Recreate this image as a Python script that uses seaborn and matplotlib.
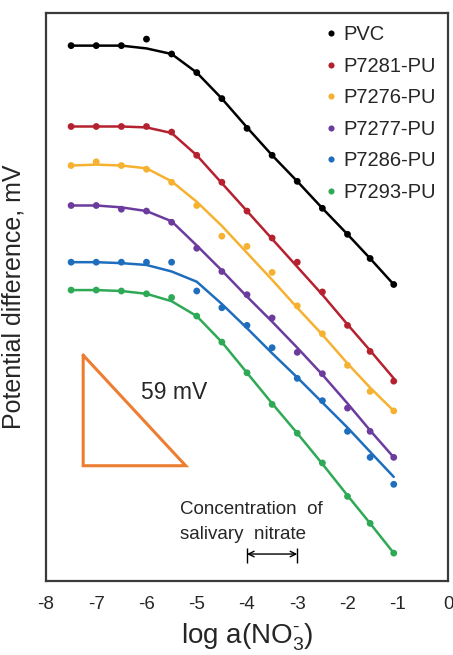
import matplotlib
matplotlib.use("Agg")
import matplotlib.pyplot as plt
import pandas as pd
import seaborn as sns

# x positions: log activity of nitrate
log_a = [-7.5, -7.0, -6.5, -6.0, -5.5, -5.0, -4.5, -4.0, -3.5, -3.0, -2.5, -2.0, -1.55, -1.08]

membranes = ["PVC", "P7281-PU", "P7276-PU", "P7277-PU", "P7286-PU", "P7293-PU"]
colors = ["#000000", "#b5212e", "#f5b12f", "#6b3c9e", "#1f6dbd", "#2ea955"]

# measured potentials (mV, curves offset for clarity)
pvc_pts = [576, 576, 576, 583, 567, 547, 519, 487, 458, 430, 401, 373, 347, 319]
p7281_pts = [489, 489, 489, 489, 483, 458, 429, 398, 369, 343, 311, 275, 247, 215]
p7276_pts = [447, 451, 447, 443, 429, 404, 371, 360, 332, 296, 266, 232, 204, 183]
p7277_pts = [404, 404, 400, 398, 386, 358, 333, 308, 283, 246, 223, 186, 161, 133]
p7286_pts = [343, 343, 343, 343, 343, 312, 294, 275, 251, 218, 194, 161, 133, 104]
p7293_pts = [313, 313, 312, 309, 305, 285, 257, 224, 190, 159, 127, 91, 62, 30]

# fitted response curves
pvc_fit = [576, 576, 576, 573, 567, 547, 519, 488, 458, 430, 401, 373, 347, 319]
p7281_fit = [489, 489, 489, 488, 482, 458, 428, 398, 368, 338, 308, 276, 248, 218]
p7276_fit = [447, 448, 447, 444, 430, 408, 382, 353, 324, 294, 265, 234, 208, 183]
p7277_fit = [404, 404, 402, 398, 387, 361, 334, 306, 279, 251, 222, 191, 162, 133]
p7286_fit = [343, 343, 342, 340, 333, 322, 298, 272, 245, 219, 192, 165, 139, 112]
p7293_fit = [313, 313, 312, 309, 301, 285, 257, 224, 191, 159, 126, 92, 62, 30]

measured = [pvc_pts, p7281_pts, p7276_pts, p7277_pts, p7286_pts, p7293_pts]
fitted = [pvc_fit, p7281_fit, p7276_fit, p7277_fit, p7286_fit, p7293_fit]

# 59 mV slope triangle and salivary nitrate range
tri_x = [-7.26, -7.26, -5.22, -7.26]
tri_y = [243, 124, 124, 243]
saliva_range = [-4.0, -3.0]

rows = []
for name, pts, fit in zip(membranes, measured, fitted):
    for x, p, f in zip(log_a, pts, fit):
        rows.append({"log_a": x, "E": p, "fit": f, "membrane": name})
df = pd.DataFrame(rows)

sns.set_style("white")
plt.rcParams["font.family"] = ["Liberation Sans", "DejaVu Sans"]
plt.rcParams["mathtext.fontset"] = "custom"
plt.rcParams["mathtext.rm"] = "Liberation Sans"
plt.rcParams["mathtext.it"] = "Liberation Sans:italic"
plt.rcParams["axes.unicode_minus"] = False

palette = dict(zip(membranes, colors))

fig, ax = plt.subplots(figsize=(4.53, 6.55), dpi=100)
fig.subplots_adjust(left=0.1015, right=0.989, bottom=0.113, top=0.980)

sns.lineplot(data=df, x="log_a", y="fit", hue="membrane", palette=palette,
             linewidth=1.8, legend=False, sort=False, ax=ax)
sns.scatterplot(data=df, x="log_a", y="E", hue="membrane", palette=palette,
                s=24, edgecolor="none", ax=ax, zorder=3)

handles, labels = ax.get_legend_handles_labels()
ax.legend(handles, labels, loc="upper right", frameon=False, fontsize=14.5,
          handlelength=0.6, handletextpad=0.3, labelspacing=0.62,
          borderaxespad=0.2, markerscale=0.9)

ax.plot(tri_x, tri_y, color="#ed7d31", linewidth=2.2, solid_joinstyle="miter")
ax.text(-5.46, 203, "59 mV", fontsize=16.5, ha="center", va="center")

ax.text(-5.34, 77, "Concentration  of", fontsize=13.5, ha="left", va="center")
ax.text(-5.34, 50, "salivary  nitrate", fontsize=13.5, ha="left", va="center")
ax.annotate("", xy=(saliva_range[1], 29), xytext=(saliva_range[0], 29),
            arrowprops=dict(arrowstyle="<->", color="black", lw=1,
                            shrinkA=0, shrinkB=0))
ax.vlines(saliva_range, 19, 36, color="black", lw=1)

ax.set_xlim(-8, 0)
ax.set_ylim(0, 611)
ax.set_xticks(range(-8, 1))
ax.set_xticklabels([str(v) for v in range(-8, 1)], fontsize=13.5)
ax.set_yticks(range(0, 601, 60))
ax.set_yticklabels([])
ax.tick_params(direction="in", length=4, width=1, color="#c0c0c0", pad=11)

for sp in ax.spines.values():
    sp.set_color("#3a3a3a")
    sp.set_linewidth(1.6)

ax.set_xlabel("log a(NO$_3^{\u2010}$)", fontsize=20, labelpad=6)
ax.set_ylabel("Potential difference, mV", fontsize=18, labelpad=4)

fig.savefig("out.png", dpi=100)
